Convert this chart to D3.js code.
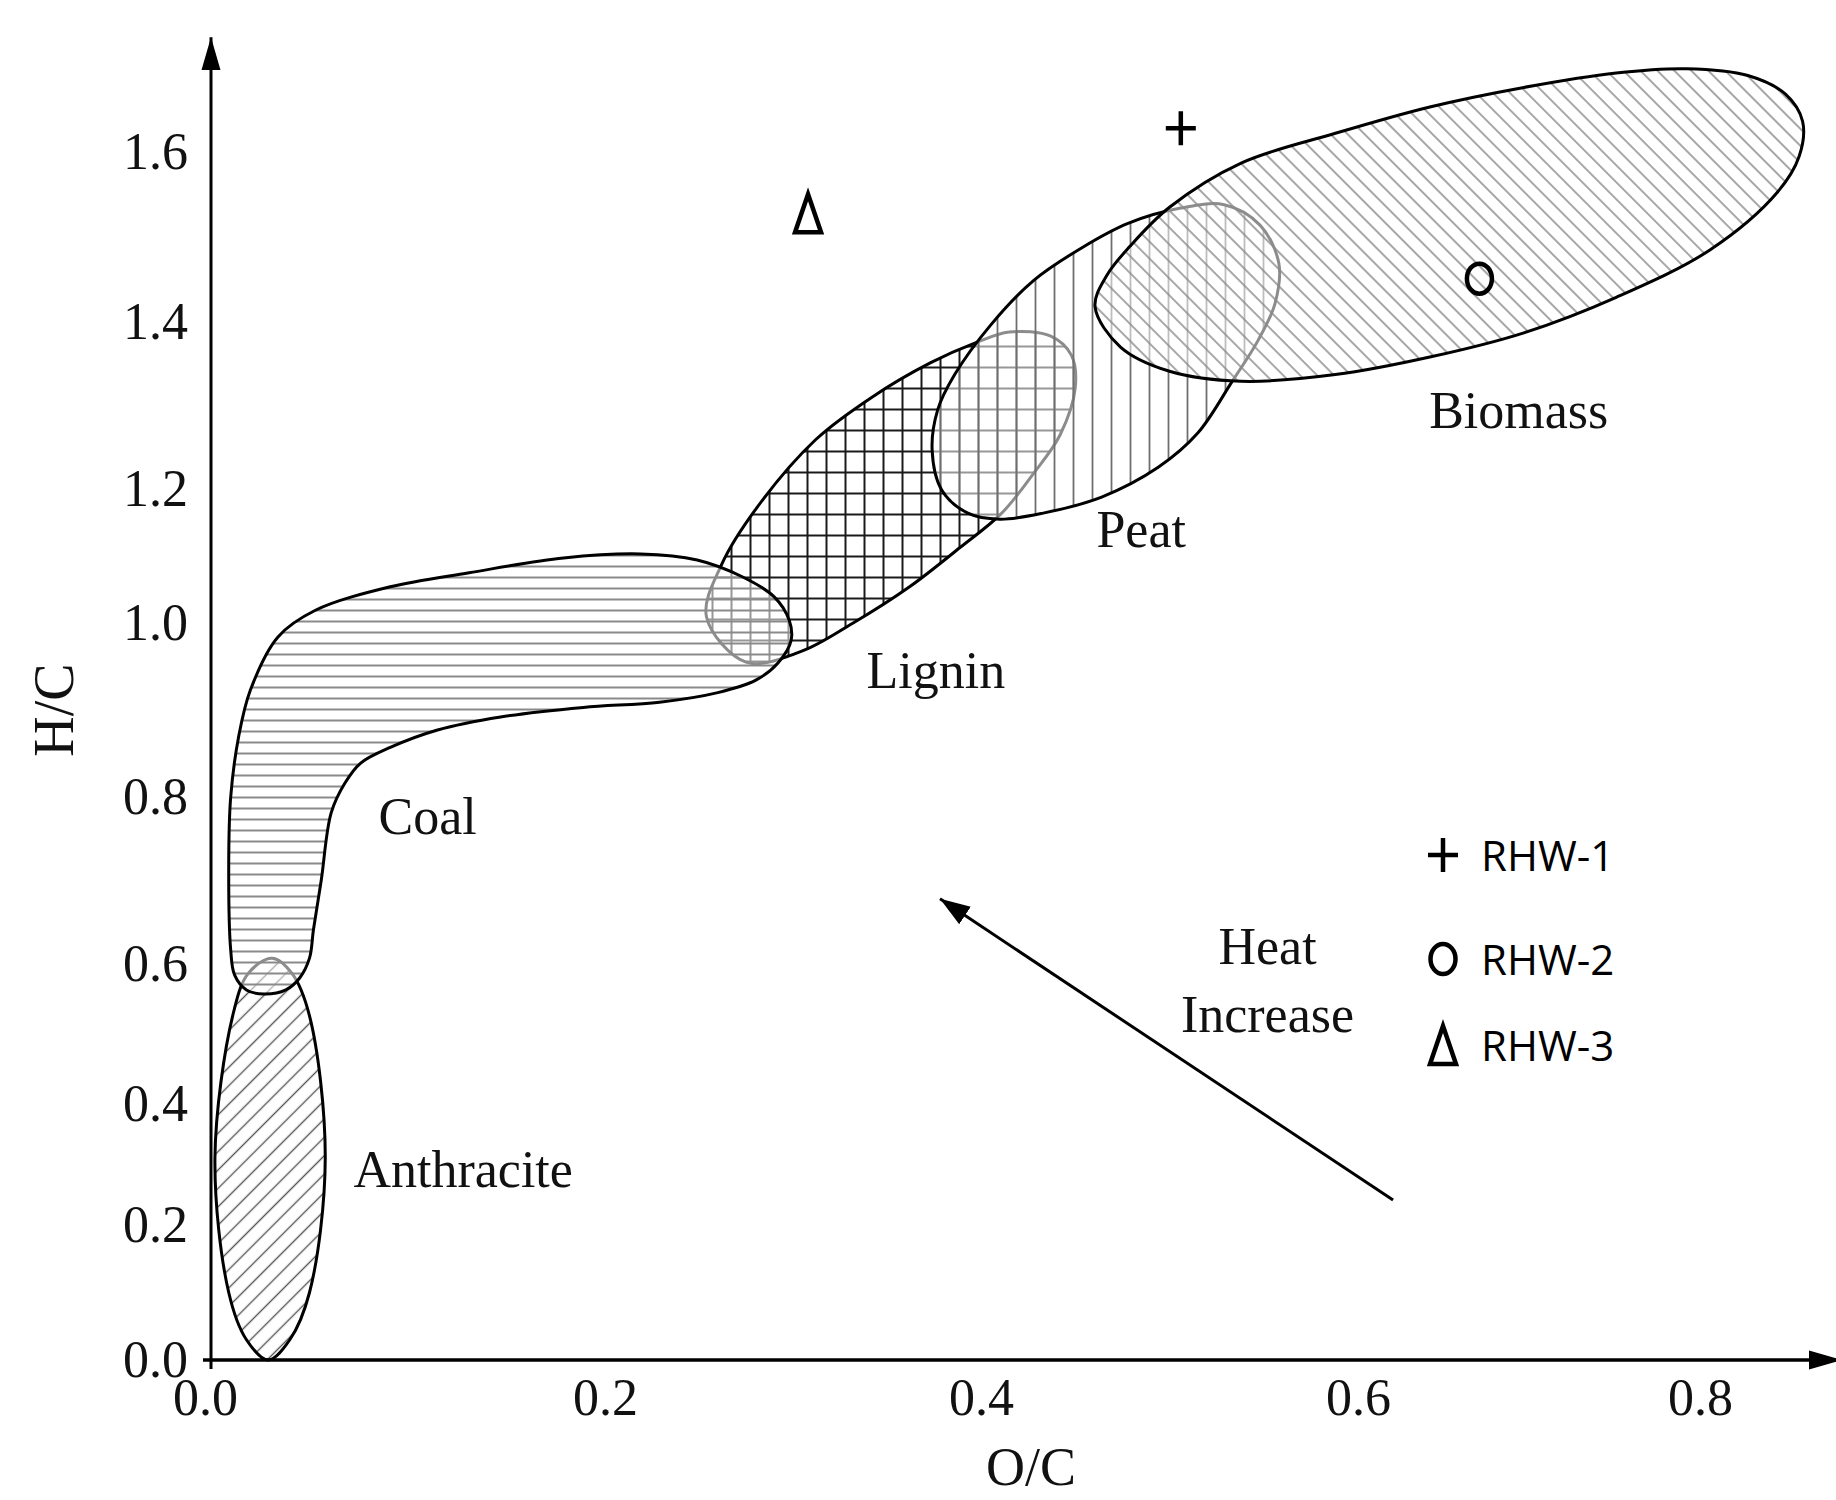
<!DOCTYPE html>
<html>
<head>
<meta charset="utf-8">
<script src="https://cdn.jsdelivr.net/npm/d3@7"></script>
<style>
  html, body { margin: 0; padding: 0; background: #fff; }
  svg { display: block; }
</style>
</head>
<body>
<svg id="chart" width="1836" height="1500"></svg>
<script>
// tick values on both axes
const xTickValues = [0, 0.2, 0.4, 0.6, 0.8];
const yTickValues = [0, 0.2, 0.4, 0.6, 0.8, 1.0, 1.2, 1.4, 1.6];

// region outlines as [O/C, H/C] points
const anthracitePts = [
  [0.031, 0.607], [0.041, 0.587], [0.050, 0.526], [0.058, 0.311], [0.050, 0.100],
  [0.040, 0.030], [0.029, 0.000], [0.018, 0.030], [0.009, 0.100], [0.002, 0.311],
  [0.011, 0.526], [0.019, 0.587]
];
const coalPts = [
  [0.010, 0.617], [0.009, 0.721], [0.010, 0.800], [0.014, 0.869],
  [0.020, 0.923], [0.034, 0.984], [0.053, 1.019], [0.091, 1.054], [0.131, 1.075],
  [0.179, 1.097], [0.219, 1.103], [0.249, 1.094], [0.273, 1.069], [0.290, 1.039],
  [0.298, 1.004], [0.299, 0.980], [0.292, 0.954], [0.280, 0.934], [0.260, 0.920],
  [0.229, 0.909], [0.189, 0.903], [0.147, 0.892], [0.115, 0.877], [0.091, 0.857],
  [0.076, 0.839], [0.068, 0.816], [0.061, 0.781], [0.056, 0.701], [0.052, 0.641],
  [0.050, 0.607], [0.045, 0.580], [0.038, 0.563], [0.027, 0.557], [0.018, 0.563],
  [0.012, 0.584]
];
const ligninPts = [
  [0.254, 1.009], [0.275, 0.955], [0.304, 0.967], [0.332, 1.000], [0.362, 1.054],
  [0.389, 1.113], [0.411, 1.164], [0.428, 1.219], [0.442, 1.265], [0.450, 1.321],
  [0.448, 1.360], [0.437, 1.383], [0.415, 1.388], [0.397, 1.375], [0.373, 1.351],
  [0.342, 1.310], [0.312, 1.259], [0.281, 1.173], [0.262, 1.087]
];
const peatPts = [
  [0.374, 1.247], [0.379, 1.199], [0.393, 1.164], [0.410, 1.155], [0.433, 1.164],
  [0.464, 1.188], [0.494, 1.226], [0.515, 1.267], [0.533, 1.328], [0.547, 1.378],
  [0.556, 1.422], [0.558, 1.469], [0.548, 1.514], [0.529, 1.538], [0.506, 1.534],
  [0.478, 1.516], [0.454, 1.488], [0.428, 1.449], [0.405, 1.396], [0.386, 1.337],
  [0.377, 1.295]
];
const biomassPts = [
  [0.4605, 1.418], [0.4668, 1.455], [0.479, 1.489], [0.500, 1.535], [0.538, 1.587],
  [0.588, 1.622], [0.642, 1.653], [0.697, 1.676], [0.751, 1.693], [0.792, 1.698],
  [0.828, 1.690], [0.850, 1.668], [0.860, 1.636], [0.858, 1.595], [0.845, 1.552],
  [0.806, 1.485], [0.751, 1.429], [0.697, 1.387], [0.642, 1.358], [0.588, 1.337],
  [0.538, 1.329], [0.500, 1.341], [0.474, 1.370]
];

// region labels [O/C, H/C]
const regionNames = ['Anthracite', 'Coal', 'Lignin', 'Peat', 'Biomass'];
const regionLabelAt = [[0.128, 0.293], [0.110, 0.777], [0.376, 0.946], [0.485, 1.140], [0.694, 1.295]];

// samples
const sampleNames = ['RHW-1', 'RHW-2', 'RHW-3'];
const sampleMarks = ['plus', 'ring', 'delta'];
const sampleOC = [0.506, 0.671, 0.308];
const sampleHC = [1.628, 1.451, 1.528];

// heat increase arrow, tail -> head
const heatArrow = [[0.6205, 0.2413], [0.3782, 0.678]];
const heatLabelAt = [0.552, 0.622];

const svg = d3.select('#chart');
const serif = '"Liberation Serif", "Times New Roman", serif';
const sans = '"Open Sans", "Noto Sans", sans-serif';

// the printed tick labels are unevenly spaced, so use piecewise scales
const x = d3.scaleLinear().domain(xTickValues).range([211, 605, 981, 1358, 1700]);
const y = d3.scaleLinear().domain(yTickValues).range([1360, 1225, 1104, 964, 797, 623, 489, 322, 152]);

const defs = svg.append('defs');

function hatch(id, w, h, angle, color, width, dirs) {
  const p = defs.append('pattern')
    .attr('id', id)
    .attr('patternUnits', 'userSpaceOnUse')
    .attr('width', w)
    .attr('height', h);
  if (angle) p.attr('patternTransform', `rotate(${angle})`);
  if (dirs.includes('v')) {
    p.append('line').attr('x1', w / 2).attr('x2', w / 2).attr('y1', -1).attr('y2', h + 1)
      .attr('stroke', color).attr('stroke-width', width);
  }
  if (dirs.includes('h')) {
    p.append('line').attr('y1', h / 2).attr('y2', h / 2).attr('x1', -1).attr('x2', w + 1)
      .attr('stroke', color).attr('stroke-width', width);
  }
}
hatch('hAnth', 13, 13, 45, '#555', 1.4, 'v');
hatch('hCoal', 20, 11, 0, '#8a8a8a', 2, 'h');
hatch('hLignin', 19, 21, 0, '#1a1a1a', 2, 'vh');
hatch('hPeat', 19, 20, 0, '#6e6e6e', 1.8, 'v');
hatch('hBio', 12, 12, -45, '#8a8a8a', 1.5, 'v');

// arrow heads
function arrowMarker(id, size, half) {
  defs.append('marker')
    .attr('id', id)
    .attr('viewBox', '0 -5 10 10')
    .attr('refX', 10)
    .attr('refY', 0)
    .attr('markerUnits', 'userSpaceOnUse')
    .attr('markerWidth', size)
    .attr('markerHeight', size)
    .attr('orient', 'auto')
    .append('path')
    .attr('d', `M0,${-half} L10,0 L0,${half} Z`)
    .attr('fill', '#000');
}
arrowMarker('axisHead', 33, 2.9);
arrowMarker('heatHead', 30, 3.5);

const outline = d3.line()
  .x(d => x(d[0]))
  .y(d => y(d[1]))
  .curve(d3.curveCatmullRomClosed.alpha(0.5));

// drawn bottom to top; the white veil greys out whatever lies underneath
const regions = [
  { pts: anthracitePts, fill: 'url(#hAnth)' },
  { pts: ligninPts, fill: 'url(#hLignin)' },
  { pts: coalPts, fill: 'url(#hCoal)' },
  { pts: peatPts, fill: 'url(#hPeat)' },
  { pts: biomassPts, fill: 'url(#hBio)' }
];
const gRegions = svg.append('g');
regions.forEach(r => {
  const g = gRegions.append('g');
  g.append('path').attr('d', outline(r.pts)).attr('fill', '#fff').attr('fill-opacity', 0.55);
  g.append('path').attr('d', outline(r.pts)).attr('fill', r.fill);
  g.append('path').attr('d', outline(r.pts)).attr('fill', 'none')
    .attr('stroke', '#000').attr('stroke-width', 3);
});

// axes lines with arrows
svg.append('line')
  .attr('x1', x(0)).attr('y1', y(0) + 9)
  .attr('x2', x(0)).attr('y2', y(1.735))
  .attr('stroke', '#000').attr('stroke-width', 3)
  .attr('marker-end', 'url(#axisHead)');
svg.append('line')
  .attr('x1', x(0) - 8).attr('y1', y(0))
  .attr('x2', x(0.883)).attr('y2', y(0))
  .attr('stroke', '#000').attr('stroke-width', 3.5)
  .attr('marker-end', 'url(#axisHead)');

// tick labels
svg.append('g')
  .attr('transform', `translate(${x(0)},0)`)
  .call(d3.axisLeft(y).tickValues(yTickValues).tickFormat(d3.format('.1f')).tickSize(0).tickPadding(23))
  .call(g => g.select('.domain').remove())
  .attr('font-family', serif)
  .attr('font-size', 52)
  .selectAll('text').attr('fill', '#111');

svg.append('g')
  .attr('transform', `translate(0,${y(0)})`)
  .call(d3.axisBottom(x).tickValues(xTickValues).tickFormat(d3.format('.1f')).tickSize(0).tickPadding(18))
  .call(g => g.select('.domain').remove())
  .attr('font-family', serif)
  .attr('font-size', 52)
  .selectAll('text')
  .attr('fill', '#111')
  .attr('dx', d => d === 0 ? -6 : 0);

// axis titles
svg.append('text')
  .attr('transform', `translate(53,${y(0.9)}) rotate(-90)`)
  .attr('text-anchor', 'middle')
  .attr('dy', '0.35em')
  .attr('font-family', serif)
  .attr('font-size', 56)
  .attr('fill', '#111')
  .text('H/C');
svg.append('text')
  .attr('x', 1031)
  .attr('y', 1466)
  .attr('text-anchor', 'middle')
  .attr('dy', '0.35em')
  .attr('font-family', serif)
  .attr('font-size', 54)
  .attr('fill', '#111')
  .text('O/C');

// region labels
svg.append('g').selectAll('text')
  .data(regionNames)
  .join('text')
  .attr('x', (d, i) => x(regionLabelAt[i][0]))
  .attr('y', (d, i) => y(regionLabelAt[i][1]))
  .attr('dy', '0.35em')
  .attr('text-anchor', 'middle')
  .attr('font-family', serif)
  .attr('font-size', 52)
  .attr('fill', '#111')
  .text(d => d);

// heat increase arrow + label
svg.append('line')
  .attr('x1', x(heatArrow[0][0])).attr('y1', y(heatArrow[0][1]))
  .attr('x2', x(heatArrow[1][0])).attr('y2', y(heatArrow[1][1]))
  .attr('stroke', '#000').attr('stroke-width', 3)
  .attr('marker-end', 'url(#heatHead)');
const heat = svg.append('text')
  .attr('x', x(heatLabelAt[0]))
  .attr('y', y(heatLabelAt[1]))
  .attr('text-anchor', 'middle')
  .attr('font-family', serif)
  .attr('font-size', 52)
  .attr('fill', '#111');
heat.append('tspan').attr('x', x(heatLabelAt[0])).attr('dy', '0.35em').text('Heat');
heat.append('tspan').attr('x', x(heatLabelAt[0])).attr('dy', 68).text('Increase');

// marker glyphs, drawn around (0,0)
function drawMark(g, kind) {
  const st = { fill: 'none', stroke: '#000', 'stroke-width': 4.5 };
  let el;
  if (kind === 'plus') el = g.append('path').attr('d', 'M-15,0H15M0,-17V17');
  else if (kind === 'ring') el = g.append('ellipse').attr('rx', 12.5).attr('ry', 15);
  else el = g.append('path').attr('d', 'M0,-19L13,19L-13,19Z').attr('stroke-linejoin', 'miter');
  Object.entries(st).forEach(([k, v]) => el.attr(k, v));
}

// sample points
svg.append('g').selectAll('g')
  .data(sampleNames)
  .join('g')
  .attr('transform', (d, i) => `translate(${x(sampleOC[i])},${y(sampleHC[i])})`)
  .each(function (d, i) { drawMark(d3.select(this), sampleMarks[i]); });

// legend
const legend = svg.append('g').attr('transform', 'translate(1443,855)');
const rows = legend.selectAll('g')
  .data(sampleNames)
  .join('g')
  .attr('transform', (d, i) => `translate(0,${[0, 104, 190][i]})`);
rows.each(function (d, i) { drawMark(d3.select(this), sampleMarks[i]); });
rows.append('text')
  .attr('x', 38)
  .attr('dy', '0.38em')
  .attr('font-family', sans)
  .attr('font-size', 42)
  .text(d => d);
</script>
</body>
</html>
